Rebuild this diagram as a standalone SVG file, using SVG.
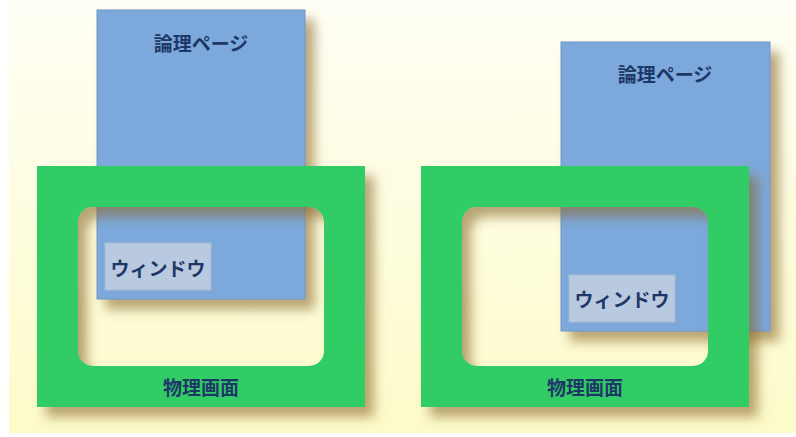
<svg xmlns="http://www.w3.org/2000/svg" width="796" height="437" viewBox="0 0 796 437">
<defs>
<linearGradient id="bg" x1="0" y1="0" x2="0" y2="1">
<stop offset="0" stop-color="#fffff6"/>
<stop offset="1" stop-color="#fdfbc9"/>
</linearGradient>
<filter id="sh" x="-20%" y="-20%" width="150%" height="150%">
<feDropShadow dx="9" dy="10" stdDeviation="6" flood-color="#8a6a2a" flood-opacity="0.6"/>
</filter>
<style>
.page{fill:#7ba8dc;stroke:#6f96c8;stroke-width:1}
.frame{fill:#33cc66;fill-rule:evenodd}
.win{fill:#b9c9df;stroke:#a9b9d2;stroke-width:1}
.t{font-family:"Noto Sans CJK JP","Noto Sans",sans-serif;font-size:19px;font-weight:bold;fill:#1d3767;text-anchor:middle;dominant-baseline:central}
</style>
</defs>
<rect x="0" y="0" width="796" height="437" fill="#ffffff"/>
<rect x="9" y="0" width="787" height="433" fill="url(#bg)"/>
<g id="left">
<g id="page1"><rect class="page" x="97" y="10" width="208" height="289" filter="url(#sh)"/><text class="t" x="201" y="42">論理ページ</text></g>
<g id="screen1"><path class="frame" filter="url(#sh)" d="M37 166H365V407H37Z M93 207H309A15 15 0 0 1 324 222V351A15 15 0 0 1 309 366H93A15 15 0 0 1 78 351V222A15 15 0 0 1 93 207Z"/><text class="t" x="201" y="386">物理画面</text></g>
<g id="window1"><rect class="win" x="105" y="243" width="106" height="47"/><text class="t" x="158" y="267">ウィンドウ</text></g>
</g>
<g id="right">
<g id="page2"><rect class="page" x="561" y="42" width="209" height="289" filter="url(#sh)"/><text class="t" x="665" y="73">論理ページ</text></g>
<g id="screen2"><path class="frame" filter="url(#sh)" d="M421 166H749V407H421Z M477 207H693A15 15 0 0 1 708 222V351A15 15 0 0 1 693 366H477A15 15 0 0 1 462 351V222A15 15 0 0 1 477 207Z"/><text class="t" x="585" y="386">物理画面</text></g>
<g id="window2"><rect class="win" x="569" y="275" width="106" height="47"/><text class="t" x="622" y="298">ウィンドウ</text></g>
</g>
<g id="connectors"/>
</svg>
